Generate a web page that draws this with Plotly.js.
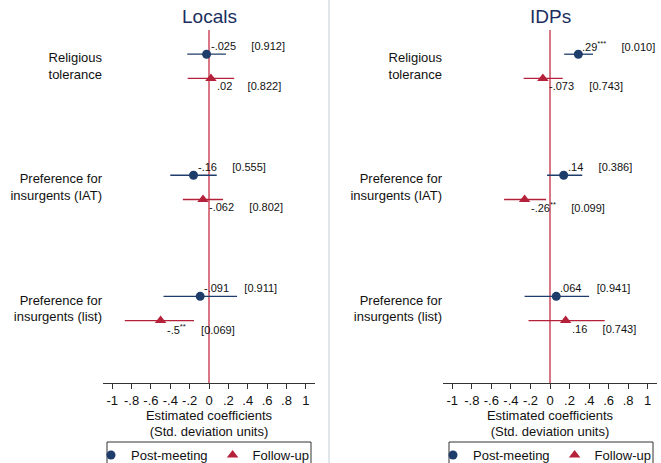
<!DOCTYPE html>
<html>
<head>
<meta charset="utf-8">
<script src="https://cdn.plot.ly/plotly-3.0.1.min.js"></script>
<style>html,body{margin:0;padding:0;background:#fff;}#chart{width:661px;height:463px;}</style>
</head>
<body>
<div id="chart"></div>
<script>
// ---- data ----
var categories = ["Religious<br>tolerance", "Preference for<br>insurgents (IAT)", "Preference for<br>insurgents (list)"];
var panels = ["Locals", "IDPs"];

var localsPostCoef = [-0.025, -0.16, -0.091];
var localsPostLo   = [-0.225, -0.40, -0.47];
var localsPostHi   = [0.175, 0.08, 0.29];
var localsPostLabel = ["-.025", "-.16", "-.091"];
var localsPostP     = ["[0.912]", "[0.555]", "[0.911]"];

var localsFollowCoef = [0.02, -0.062, -0.5];
var localsFollowLo   = [-0.22, -0.27, -0.87];
var localsFollowHi   = [0.26, 0.145, -0.155];
var localsFollowLabel = [".02", "-.062", "-.5<sup>**</sup>"];
var localsFollowP     = ["[0.822]", "[0.802]", "[0.069]"];

var idpsPostCoef = [0.29, 0.14, 0.064];
var idpsPostLo   = [0.145, -0.03, -0.26];
var idpsPostHi   = [0.44, 0.33, 0.40];
var idpsPostLabel = [".29<sup>***</sup>", ".14", ".064"];
var idpsPostP     = ["[0.010]", "[0.386]", "[0.941]"];

var idpsFollowCoef = [-0.073, -0.26, 0.16];
var idpsFollowLo   = [-0.27, -0.47, -0.22];
var idpsFollowHi   = [0.13, -0.04, 0.56];
var idpsFollowLabel = ["-.073", "-.26<sup>**</sup>", ".16"];
var idpsFollowP     = ["[0.743]", "[0.099]", "[0.743]"];

var xTickVals = [-1, -0.8, -0.6, -0.4, -0.2, 0, 0.2, 0.4, 0.6, 0.8, 1];
var xTickText = ["-1", "-.8", "-.6", "-.4", "-.2", "0", ".2", ".4", ".6", ".8", "1"];
var seriesNames = ["Post-meeting", "Follow-up"];

// ---- styling ----
var NAVY = "#1f3d6b";
var RED = "#b5213a";
var ZERO = "#cc4a5e";
var FONT = "Liberation Sans, Arial, Helvetica, sans-serif";
var GAP = "\u00a0\u00a0\u00a0\u00a0\u00a0";

function ys(off) { return categories.map(function (c, i) { return i + off; }); }
function plus(c, h) { return c.map(function (v, i) { return h[i] - v; }); }
function minus(c, l) { return c.map(function (v, i) { return v - l[i]; }); }

function mk(name, coef, lo, hi, off, color, symbol, size, xa, ya, leg) {
  return {
    type: "scatter", mode: "markers", name: name,
    x: coef, y: ys(off), xaxis: xa, yaxis: ya, legend: leg,
    marker: {color: color, symbol: symbol, size: size},
    error_x: {type: "data", symmetric: false, array: plus(coef, hi), arrayminus: minus(coef, lo),
              color: color, thickness: 1.3, width: 0},
    cliponaxis: false, hoverinfo: "skip"
  };
}

function notes(coef, lab, p, off, xa, ya, xs, yshift) {
  return coef.map(function (v, i) {
    return {
      x: v, y: i + off, xref: xa, yref: ya, text: lab[i] + GAP + p[i],
      showarrow: false, xanchor: "left", yanchor: "middle", xshift: xs, yshift: yshift,
      font: {family: FONT, size: 11, color: "#111"}
    };
  });
}

var traces = [
  mk(seriesNames[0], localsPostCoef, localsPostLo, localsPostHi, -0.1, NAVY, "circle", 9, "x", "y", "legend"),
  mk(seriesNames[1], localsFollowCoef, localsFollowLo, localsFollowHi, 0.1, RED, "triangle-up", 10, "x", "y", "legend"),
  mk(seriesNames[0], idpsPostCoef, idpsPostLo, idpsPostHi, -0.1, NAVY, "circle", 9, "x2", "y2", "legend2"),
  mk(seriesNames[1], idpsFollowCoef, idpsFollowLo, idpsFollowHi, 0.1, RED, "triangle-up", 10, "x2", "y2", "legend2")
];

var W = 661, H = 463;
var yDom = [1 - 383 / H, 1 - 30 / H];

function xax(d0, d1, anchor) {
  return {
    domain: [d0 / W, d1 / W], anchor: anchor, range: [-1.095, 1.095], automargin: false,
    tickvals: xTickVals, ticktext: xTickText,
    ticks: "outside", ticklen: 5, tickcolor: "#333", tickwidth: 1,
    showline: true, linecolor: "#333", linewidth: 1,
    showgrid: false, zeroline: false,
    tickfont: {family: FONT, size: 13, color: "#111"},
    title: {text: "Estimated coefficients<br>(Std. deviation units)", font: {family: FONT, size: 13, color: "#111"}, standoff: 0}
  };
}
function yax(anchor) {
  return {
    domain: yDom, anchor: anchor, range: [2.616, -0.30], autorange: false, automargin: false,
    tickvals: [0, 1, 2], ticktext: categories,
    ticks: "", showline: false, showgrid: false, zeroline: false,
    tickfont: {family: FONT, size: 13, color: "#111"}, ticklabelstandoff: 0
  };
}

var legendCommon = {
  orientation: "h", yanchor: "top", xanchor: "left", yref: "container", xref: "container",
  y: 1 - 440 / H,
  borderwidth: 0, bgcolor: "rgba(0,0,0,0)",
  font: {family: FONT, size: 13, color: "#111"}, itemwidth: 30, tracegroupgap: 0
};

var annotations = [
  {text: panels[0], xref: "paper", yref: "paper", x: 209 / W, y: 1 - 17 / H, showarrow: false, xanchor: "center", yanchor: "middle", font: {family: FONT, size: 19, color: "#1a2e5e"}},
  {text: panels[1], xref: "paper", yref: "paper", x: 550 / W, y: 1 - 17 / H, showarrow: false, xanchor: "center", yanchor: "middle", font: {family: FONT, size: 19, color: "#1a2e5e"}}
].concat(
  notes(localsPostCoef, localsPostLabel, localsPostP, -0.1, "x", "y", 2, 8),
  notes(localsFollowCoef, localsFollowLabel, localsFollowP, 0.1, "x", "y", 4, -8),
  notes(idpsPostCoef, idpsPostLabel, idpsPostP, -0.1, "x2", "y2", 2, 8),
  notes(idpsFollowCoef, idpsFollowLabel, idpsFollowP, 0.1, "x2", "y2", 4, -8)
);

var layout = {
  width: W, height: H, margin: {l: 0, r: 0, t: 0, b: 0, autoexpand: false},
  paper_bgcolor: "#fff", plot_bgcolor: "rgba(0,0,0,0)",
  font: {family: FONT},
  xaxis: xax(103, 315, "y"), yaxis: yax("x"),
  xaxis2: xax(443, 657, "y2"), yaxis2: yax("x2"),
  showlegend: true,
  legend: Object.assign({}, legendCommon, {x: 91 / W}),
  legend2: Object.assign({}, legendCommon, {x: 433 / W}),
  shapes: [
    {type: "line", xref: "paper", yref: "paper", x0: 329 / W, x1: 329 / W, y0: 0, y1: 1, line: {color: "#dfe7ea", width: 2}},
    {type: "line", xref: "x", yref: "y domain", x0: 0, x1: 0, y0: 0, y1: 1, line: {color: ZERO, width: 1.5}, layer: "below"},
    {type: "line", xref: "x2", yref: "y2 domain", x0: 0, x1: 0, y0: 0, y1: 1, line: {color: ZERO, width: 1.5}, layer: "below"},
    {type: "rect", xref: "paper", yref: "paper", x0: 107 / W, x1: 311 / W, y0: -0.05, y1: 1 - 442 / H, line: {color: "#333", width: 1}, fillcolor: "rgba(0,0,0,0)"},
    {type: "rect", xref: "paper", yref: "paper", x0: 449 / W, x1: 653 / W, y0: -0.05, y1: 1 - 442 / H, line: {color: "#333", width: 1}, fillcolor: "rgba(0,0,0,0)"}
  ],
  annotations: annotations
};

Plotly.newPlot("chart", traces, layout, {staticPlot: true, displayModeBar: false});
</script>
</body>
</html>
